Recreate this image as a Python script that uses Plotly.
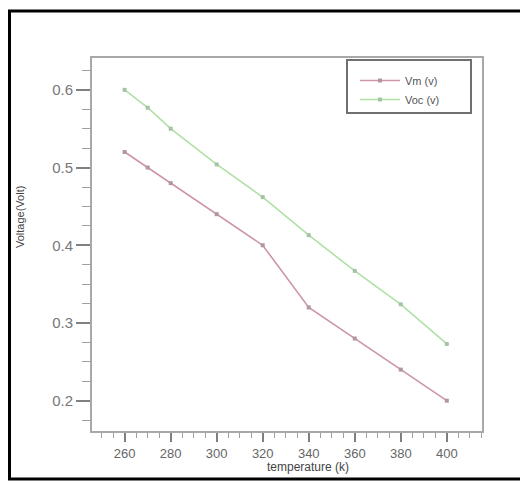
import plotly.graph_objects as go

temperature = [260, 270, 280, 300, 320, 340, 360, 380, 400]
vm_values = [0.52, 0.50, 0.48, 0.44, 0.40, 0.32, 0.28, 0.24, 0.20]
voc_values = [0.60, 0.577, 0.55, 0.504, 0.462, 0.413, 0.367, 0.324, 0.273]
x_ticks = [260, 280, 300, 320, 340, 360, 380, 400]
y_ticks = [0.2, 0.3, 0.4, 0.5, 0.6]

# the page body adds an 8px offset; figure coordinates = screen - 8
OFF = 8
W, H = 528 - OFF, 483 - OFF
L, R, T, B = 92 - OFF, 528 - 482, 58 - OFF, 483 - 431
pw, ph = W - L - R, H - T - B

def px(x):
    return (x - OFF - L) / pw

def py(y):
    return (H - B - (y - OFF)) / ph

fig = go.Figure()
fig.add_trace(go.Scatter(
    x=temperature, y=vm_values, name="Vm (v)", mode="lines+markers",
    line=dict(color="rgb(205,150,165)", width=1.6),
    marker=dict(symbol="square", size=4, color="rgb(175,150,160)"),
))
fig.add_trace(go.Scatter(
    x=temperature, y=voc_values, name="Voc (v)", mode="lines+markers",
    line=dict(color="rgb(175,225,165)", width=1.6),
    marker=dict(symbol="square", size=4, color="rgb(165,195,165)"),
))

axis_common = dict(
    showline=True, linecolor="#a8a8a8", linewidth=2, mirror=True,
    showgrid=False, zeroline=False, ticks="outside", tickcolor="#808080",
    tickwidth=2, automargin=False,
)

fig.update_xaxes(
    range=[245.8, 415.3], tickvals=x_ticks, ticklen=9,
    tickfont=dict(family="Liberation Sans", size=13, color="#666666"),
    minor=dict(dtick=5, tick0=0, ticks="outside", ticklen=5, tickcolor="#a0a0a0", tickwidth=1),
    **axis_common,
)
fig.update_yaxes(
    range=[0.161, 0.641], tickvals=y_ticks, ticklen=14,
    tickformat=".1f",
    tickfont=dict(family="Liberation Sans", size=15, color="#777777"),
    minor=dict(dtick=0.025, tick0=0, ticks="outside", ticklen=8, tickcolor="#a0a0a0", tickwidth=1),
    **axis_common,
)

fig.add_annotation(
    text="temperature (k)", xref="paper", yref="paper",
    x=px(308), y=py(467), xanchor="center", yanchor="middle", showarrow=False,
    font=dict(family="Liberation Sans", size=12, color="#444444"),
)
fig.add_annotation(
    text="Voltage(Volt)", xref="paper", yref="paper",
    x=px(20), y=py(217), xanchor="center", yanchor="middle", showarrow=False, textangle=-90,
    font=dict(family="Liberation Sans", size=11, color="#444444"),
)

# outer page frame
fig.add_shape(
    type="rect", xref="paper", yref="paper",
    x0=px(9.5), x1=px(540), y0=py(479), y1=py(11),
    line=dict(color="black", width=3),
)
# legend box
fig.add_shape(
    type="rect", xref="paper", yref="paper",
    x0=px(347), x1=px(471), y0=py(113), y1=py(60),
    line=dict(color="#707070", width=2), fillcolor="white", layer="below",
)

fig.update_layout(
    width=W, height=H,
    margin=dict(l=L, r=R, t=T, b=B, autoexpand=False),
    paper_bgcolor="white", plot_bgcolor="white",
    showlegend=True,
    legend=dict(
        x=px(355), y=py(66), xanchor="left", yanchor="top",
        bgcolor="rgba(0,0,0,0)", borderwidth=0,
        font=dict(family="Liberation Sans", size=11, color="#555555"),
        itemwidth=40, tracegroupgap=0,
    ),
)

fig.write_html("out.html")
